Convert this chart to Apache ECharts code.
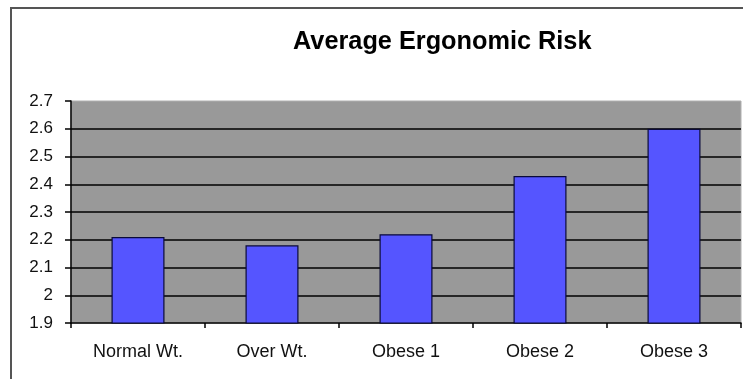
<!DOCTYPE html>
<html>
<head>
<meta charset="utf-8">
<script src="https://cdn.jsdelivr.net/npm/echarts@6/dist/echarts.min.js"></script>
<style>
  html, body { margin: 0; padding: 0; background: #ffffff; }
  #chart { width: 743px; height: 379px; }
</style>
</head>
<body>
<div id="chart"></div>
<script>
// Weight groups and their average ergonomic risk score
const categories = ['Normal Wt.', 'Over Wt.', 'Obese 1', 'Obese 2', 'Obese 3'];
const riskValues = [2.21, 2.18, 2.22, 2.43, 2.60];
const yMin = 1.9;
const yMax = 2.7;
const yStep = 0.1;

const chart = echarts.init(document.getElementById('chart'), null, { renderer: 'canvas' });

chart.setOption({
  backgroundColor: '#ffffff',
  animation: false,
  textStyle: { fontFamily: 'Liberation Sans, Arial, sans-serif' },
  title: {
    text: 'Average Ergonomic Risk',
    left: 288,
    top: 25,
    textStyle: { fontSize: 25.3, fontWeight: 'bold', color: '#000000', fontFamily: 'Liberation Sans, Arial, sans-serif' }
  },
  graphic: [
    {
      type: 'rect',
      shape: { x: 11, y: 8, width: 760, height: 400 },
      style: { fill: 'none', stroke: '#555555', lineWidth: 2 },
      z: -1
    }
  ],
  grid: {
    left: 71,
    right: 2,
    top: 101,
    bottom: 56,
    show: true,
    backgroundColor: '#999999',
    borderWidth: 1,
    borderColor: '#b0b0b0'
  },
  xAxis: {
    type: 'category',
    data: categories,
    boundaryGap: true,
    axisLine: { show: true, lineStyle: { color: '#000000', width: 1.5 } },
    axisTick: { show: true, length: 5, lineStyle: { color: '#000000', width: 1.5 } },
    axisLabel: { color: '#111111', fontSize: 18, margin: 20 }
  },
  yAxis: {
    type: 'value',
    min: yMin,
    max: yMax,
    interval: yStep,
    axisLine: { show: true, lineStyle: { color: '#000000', width: 1.5 } },
    axisTick: { show: true, length: 6, lineStyle: { color: '#000000', width: 1.5 } },
    axisLabel: {
      color: '#111111',
      fontSize: 17,
      margin: 18,
      formatter: v => String(Math.round(v * 10) / 10)
    },
    splitLine: {
      show: true,
      showMinLine: false,
      showMaxLine: false,
      lineStyle: { color: '#000000', width: 1.5 }
    }
  },
  series: [
    {
      type: 'bar',
      data: riskValues,
      barWidth: 53,
      itemStyle: { color: '#5555ff', borderColor: '#0a0a3a', borderWidth: 1.2 },
      z: 3
    }
  ]
});
</script>
</body>
</html>
